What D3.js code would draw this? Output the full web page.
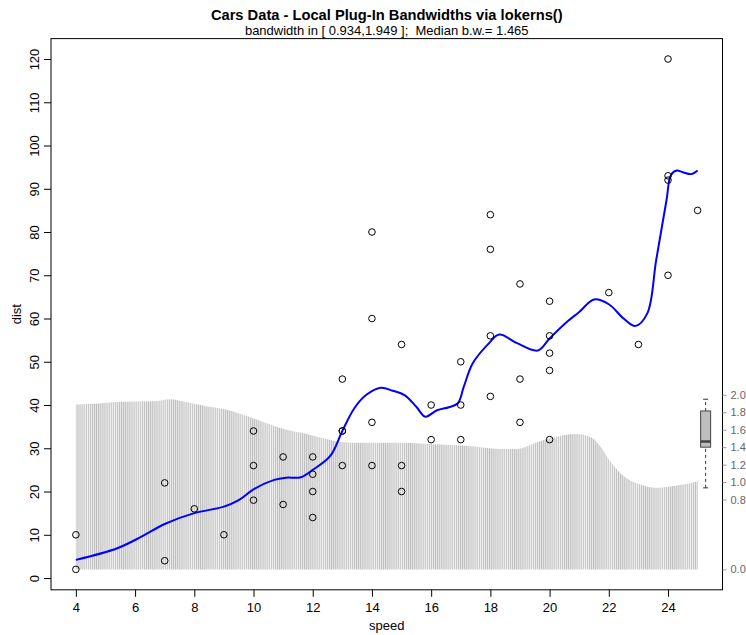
<!DOCTYPE html>
<html>
<head>
<meta charset="utf-8">
<script src="https://cdn.jsdelivr.net/npm/d3@7"></script>
<style>
  body { margin: 0; background: #fff; }
  svg text { font-family: "Liberation Sans", Arial, Helvetica, sans-serif; white-space: pre; }
</style>
</head>
<body>
<svg width="746" height="635"></svg>
<script>
// cars data
const speed = [4,4,7,7,8,9,10,10,10,11,11,12,12,12,12,13,13,13,13,14,14,14,14,15,15,15,16,16,17,17,17,18,18,18,18,19,19,19,20,20,20,20,20,22,23,24,24,24,24,25]
const dist = [2,10,4,22,16,10,18,26,34,17,28,14,20,24,28,26,34,34,46,26,36,60,80,20,26,54,32,40,32,40,50,42,56,76,84,36,46,68,32,48,52,56,64,66,54,70,92,93,120,85]

// lokerns fit
const fitSpeed = [4, 5.4, 6.2, 7.0, 8.0, 9.0, 9.5, 10.0, 10.7, 11.1, 11.6, 12.0, 12.6, 13.0, 13.4, 13.8, 14.3, 14.7, 15.1, 15.5, 15.8, 16.2, 16.6, 16.9, 17.1, 17.4, 17.9, 18.3, 18.9, 19.6, 20.0, 20.6, 21.0, 21.5, 22.0, 22.5, 22.9, 23.3, 23.6, 23.95, 24.1, 24.3, 24.5, 24.8, 25.0]
const fitDist = [4.2, 6.9, 9.5, 12.5, 15.0, 16.5, 18.0, 20.5, 22.7, 23.2, 23.3, 25.0, 28.3, 34.0, 39.2, 42.3, 44.0, 43.3, 42.3, 39.6, 37.3, 38.8, 39.5, 40.4, 44.2, 49.6, 53.9, 56.3, 54.3, 52.6, 55.4, 59.3, 61.5, 64.4, 63.3, 60.0, 58.3, 61.2, 73.5, 87.4, 93.2, 94.2, 93.8, 93.4, 94.2]

// local bandwidths
const bwSpeed = [4, 4.8, 5.5, 6.6, 7.2, 7.6, 8.4, 9.1, 10.0, 10.9, 11.8, 12.5, 12.9, 13.8, 15.0, 16.1, 17.2, 18.3, 18.9, 19.4, 20.1, 20.9, 21.4, 21.7, 22.0, 22.5, 23.0, 23.6, 24.3, 25.0]
const bwVal = [1.89, 1.90, 1.92, 1.925, 1.949, 1.925, 1.87, 1.83, 1.73, 1.62, 1.55, 1.49, 1.46, 1.45, 1.45, 1.435, 1.415, 1.38, 1.38, 1.435, 1.51, 1.55, 1.51, 1.415, 1.26, 1.07, 0.98, 0.934, 0.96, 1.01]
const bwBox = [0.934, 1.40, 1.465, 1.815, 1.949] // min, q1, median, q3, max

const xTicks = [4, 6, 8, 10, 12, 14, 16, 18, 20, 22, 24]
const yTicks = [0, 10, 20, 30, 40, 50, 60, 70, 80, 90, 100, 110, 120]
const bwTicks = [0, 0.8, 1.0, 1.2, 1.4, 1.6, 1.8, 2.0]
const nOut = 300

const svg = d3.select("svg")
const pLeft = 51, pRight = 722.5, pTop = 38.6, pBottom = 589.8

// R style 4% axis extension
const ext = (lo, hi) => [lo - 0.04 * (hi - lo), hi + 0.04 * (hi - lo)]
const x = d3.scaleLinear().domain(ext(d3.min(speed), d3.max(speed))).range([pLeft, pRight])
const y = d3.scaleLinear().domain(ext(d3.min(dist), d3.max(dist))).range([pBottom, pTop])

// bandwidths drawn in the lower third of the y range
const yMin = d3.min(dist), yRange = d3.max(dist) - d3.min(dist)
const bwMax = d3.max(bwVal)
const yb = d3.scaleLinear().domain([0, bwMax]).range([y(yMin), y(yMin + yRange / 3)])

// vertical bandwidth lines as a pattern, one per output point
const step = (x(d3.max(speed)) - x(d3.min(speed))) / (nOut - 1)
const pat = svg.append("defs").append("pattern")
    .attr("id", "bwLines")
    .attr("patternUnits", "userSpaceOnUse")
    .attr("x", x(d3.min(speed)) - 0.5)
    .attr("width", step)
    .attr("height", 635)
pat.append("rect").attr("width", step).attr("height", 635).attr("fill", "#f0f0f0")
pat.append("line")
    .attr("x1", 0.5).attr("x2", 0.5).attr("y1", 0).attr("y2", 635)
    .attr("stroke", "#bdbdbd").attr("stroke-width", 1)

const bwArea = d3.area()
    .x((d, i) => x(bwSpeed[i]))
    .y0(yb(0))
    .y1(d => yb(d))
    .curve(d3.curveMonotoneX)

svg.append("path")
    .datum(bwVal)
    .attr("d", bwArea)
    .attr("fill", "url(#bwLines)")

// fitted curve
const line = d3.line()
    .x((d, i) => x(fitSpeed[i]))
    .y(d => y(d))
    .curve(d3.curveCatmullRom.alpha(0.5))

svg.append("path")
    .datum(fitDist)
    .attr("d", line)
    .attr("fill", "none")
    .attr("stroke", "#0000ff")
    .attr("stroke-width", 2)

// points
svg.append("g").selectAll("circle")
    .data(speed)
    .enter().append("circle")
    .attr("cx", d => x(d))
    .attr("cy", (d, i) => y(dist[i]))
    .attr("r", 3.3)
    .attr("fill", "none")
    .attr("stroke", "black")
    .attr("stroke-width", 1)

// boxplot of bandwidths
const bx = x(d3.max(speed)) + 8, bw2 = 5
const box = svg.append("g")
box.append("line")
    .attr("x1", bx).attr("x2", bx).attr("y1", yb(bwBox[0])).attr("y2", yb(bwBox[1]))
    .attr("stroke", "#333").attr("stroke-dasharray", "3,3")
box.append("line")
    .attr("x1", bx).attr("x2", bx).attr("y1", yb(bwBox[3])).attr("y2", yb(bwBox[4]))
    .attr("stroke", "#333").attr("stroke-dasharray", "3,3")
box.selectAll(".staple")
    .data([bwBox[0], bwBox[4]])
    .enter().append("line")
    .attr("x1", bx - 2.5).attr("x2", bx + 2.5)
    .attr("y1", d => yb(d)).attr("y2", d => yb(d))
    .attr("stroke", "#333")
box.append("rect")
    .attr("x", bx - bw2).attr("width", 2 * bw2)
    .attr("y", yb(bwBox[3])).attr("height", yb(bwBox[1]) - yb(bwBox[3]))
    .attr("fill", "#bebebe").attr("stroke", "#444")
box.append("line")
    .attr("x1", bx - bw2).attr("x2", bx + bw2)
    .attr("y1", yb(bwBox[2])).attr("y2", yb(bwBox[2]))
    .attr("stroke", "#444").attr("stroke-width", 2.5)

// frame
svg.append("rect")
    .attr("x", pLeft).attr("y", pTop)
    .attr("width", pRight - pLeft).attr("height", pBottom - pTop)
    .attr("fill", "none").attr("stroke", "black")

// axes
const gx = svg.append("g")
    .attr("transform", `translate(0,${pBottom})`)
    .call(d3.axisBottom(x).tickValues(xTicks).tickSize(7).tickPadding(6).tickFormat(d3.format("d")))
gx.select(".domain").remove()
gx.selectAll("text").attr("font-size", 13).attr("fill", "black")

const gy = svg.append("g")
    .attr("transform", `translate(${pLeft},0)`)
    .call(d3.axisLeft(y).tickValues(yTicks).tickSize(7))
gy.select(".domain").remove()
gy.selectAll("text")
    .attr("font-size", 13).attr("fill", "black")
    .attr("transform", "rotate(-90)")
    .attr("x", 0).attr("dy", 0)
    .attr("text-anchor", "middle")
gy.selectAll(".tick text").attr("y", -12)

const gr = svg.append("g")
    .attr("transform", `translate(${pRight},0)`)
    .call(d3.axisRight(yb).tickValues(bwTicks).tickSize(4).tickPadding(4).tickFormat(d3.format(".1f")))
gr.select(".domain").remove()
gr.selectAll("line").attr("stroke", "#999")
gr.selectAll("text").attr("font-size", 11).attr("fill", "#666")

// titles
const cx = (pLeft + pRight) / 2
svg.append("text")
    .attr("x", cx).attr("y", 20)
    .attr("text-anchor", "middle")
    .attr("font-size", 14.7).attr("font-weight", "bold")
    .text("Cars Data - Local Plug-In Bandwidths via lokerns()")
svg.append("text")
    .attr("x", cx).attr("y", 35)
    .attr("text-anchor", "middle")
    .attr("font-size", 13)
    .text("bandwidth in [ 0.934,1.949 ];  Median b.w.= 1.465")
svg.append("text")
    .attr("x", cx).attr("y", 630)
    .attr("text-anchor", "middle")
    .attr("font-size", 13)
    .text("speed")
svg.append("text")
    .attr("transform", `translate(21,${(pTop + pBottom) / 2}) rotate(-90)`)
    .attr("text-anchor", "middle")
    .attr("font-size", 13)
    .text("dist")
</script>
</body>
</html>
